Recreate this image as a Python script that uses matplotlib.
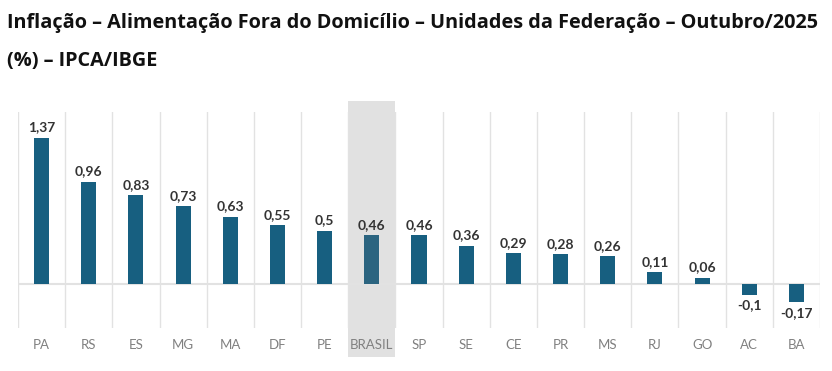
import matplotlib.pyplot as plt
from matplotlib.transforms import blended_transform_factory
from matplotlib.patches import Rectangle

plt.rcParams['font.family'] = ['Lato', 'DejaVu Sans']

# data (IPCA/IBGE, outubro/2025)
states = ['PA', 'RS', 'ES', 'MG', 'MA', 'DF', 'PE', 'BRASIL', 'SP', 'SE',
          'CE', 'PR', 'MS', 'RJ', 'GO', 'AC', 'BA']
values = [1.37, 0.96, 0.83, 0.73, 0.63, 0.55, 0.5, 0.46, 0.46, 0.36,
          0.29, 0.28, 0.26, 0.11, 0.06, -0.1, -0.17]
highlight = 'BRASIL'

bar_color = '#175f80'
brasil_color = '#2b6480'

fig = plt.figure(figsize=(8.32, 3.71), dpi=100)
ax = fig.add_axes([0.0216, 0.116, 0.9640, 0.582])

x = list(range(len(states)))
colors = [brasil_color if s == highlight else bar_color for s in states]
ax.bar(x, values, width=0.32, color=colors, zorder=3)

# gray band behind the national average
hi = states.index(highlight)
trans = blended_transform_factory(ax.transData, ax.transAxes)
ax.add_patch(Rectangle((hi - 0.5, -0.134), 1.0, 1.185, transform=trans,
                       facecolor='#e1e1e1', edgecolor='none', zorder=0,
                       clip_on=False))

# vertical separators and zero line
for i in range(len(states) + 1):
    ax.axvline(i - 0.5, color='#e2e2e2', lw=1, zorder=1)
ax.axhline(0, color='#e2e2e2', lw=1.5, zorder=2)

# value labels
for xi, v in zip(x, values):
    txt = ('%g' % v).replace('.', ',')
    if v >= 0:
        ax.text(xi, v + 0.04, txt, ha='center', va='bottom', fontsize=10,
                fontweight='bold', color='#333333', zorder=4)
    else:
        ax.text(xi, v - 0.04, txt, ha='center', va='top', fontsize=10,
                fontweight='bold', color='#333333', zorder=4)

ax.set_xlim(-0.5, len(states) - 0.5)
ax.set_ylim(-0.41, 1.61)
ax.set_xticks(x)
ax.set_xticklabels(states, fontsize=9.5, color='#808080')
ax.tick_params(axis='x', length=0, pad=8)
ax.set_yticks([])
for sp in ax.spines.values():
    sp.set_visible(False)

title_font = ['Open Sans', 'DejaVu Sans']
fig.text(0.009, 0.924, 'Inflação – Alimentação Fora do Domicílio – Unidades da Federação – Outubro/2025',
         fontsize=14.3, fontweight='bold', family=title_font, color='#111111',
         va='baseline')
fig.text(0.009, 0.822, '(%) – IPCA/IBGE', fontsize=14.3, fontweight='bold',
         family=title_font, color='#111111', va='baseline')

fig.savefig('out.png', dpi=100)
